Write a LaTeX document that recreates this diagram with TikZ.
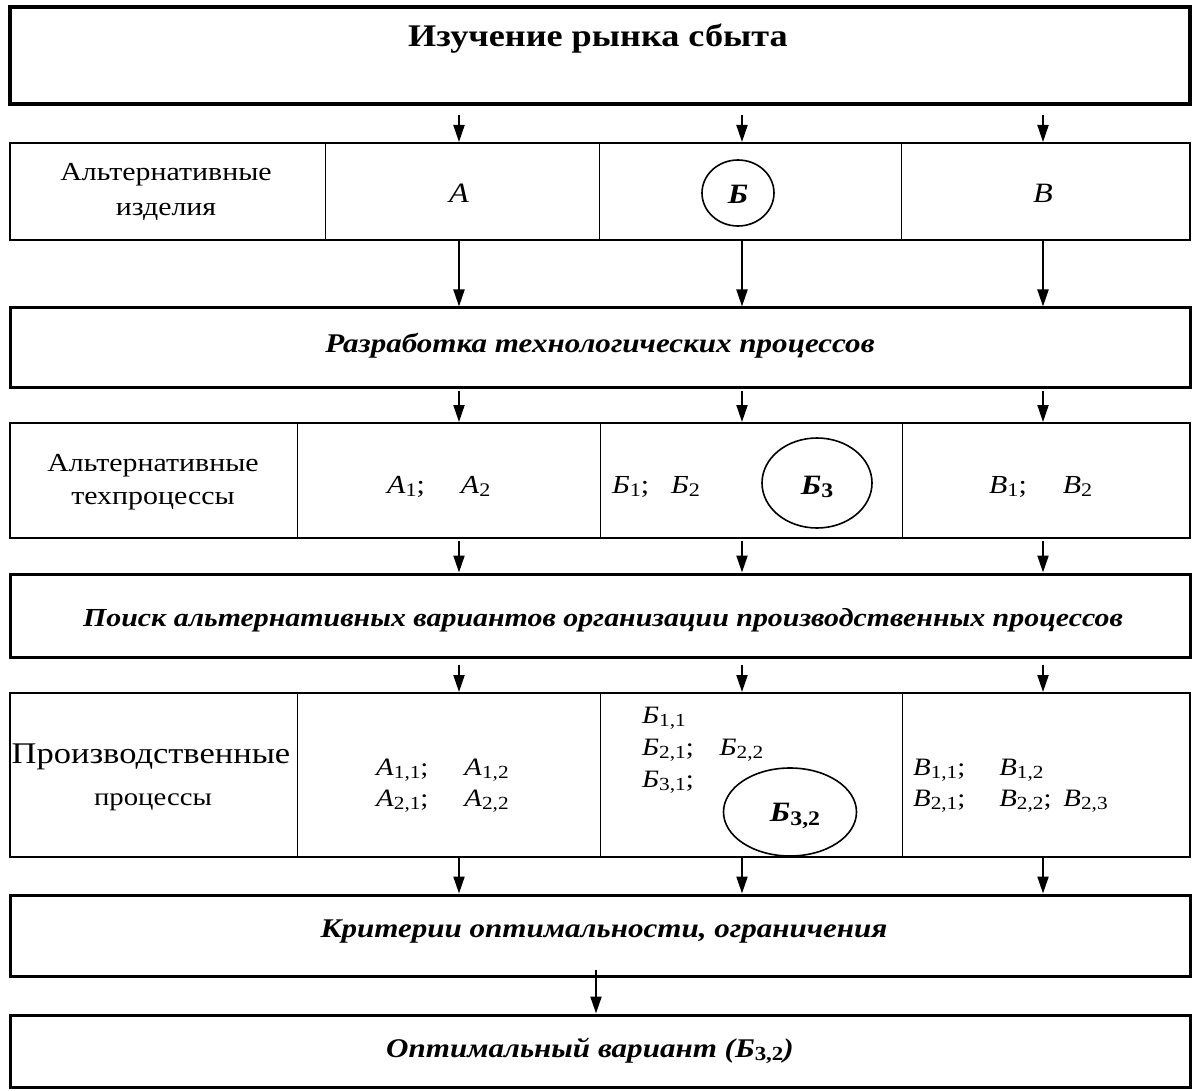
\documentclass[tikz,border=0pt]{standalone}
\usepackage{fontspec}
\usepackage{graphicx}
\setmainfont[FakeStretch=1.15]{Liberation Serif}
\usetikzlibrary{arrows.meta,shapes.geometric}
\newcommand{\sbs}[1]{\raisebox{-0.28ex}{\scalebox{0.74}{\upshape #1}}}
\newcommand{\Iv}[2]{\textit{#1}\sbs{#2}}
\newcommand{\Bv}[2]{\textbf{\textit{#1}}\sbs{\bfseries #2}}
\newcommand{\fs}[1]{\fontsize{#1}{#1}\selectfont}
\newcommand{\fsl}[2]{\fontsize{#1}{#2}\selectfont}
\begin{document}
\begin{tikzpicture}[x=1pt,y=-1pt,
  box/.style={draw,line width=3pt,inner sep=0pt},
  row/.style={draw,line width=2pt,inner sep=0pt},
  cell/.style={draw,line width=0.9pt,inner sep=0pt},
  arr/.style={line width=2pt,-{Triangle[width=11pt,length=17pt]}},
  oval/.style={draw,ellipse,line width=1.6pt,inner sep=0pt},
  boxtxt/.style={font=\fs{27}\bfseries\itshape},
  lbl/.style={align=center,inner sep=0pt}]
\useasboundingbox (0,0) rectangle (1194,1091);

% arrow columns
\coordinate (xA) at (459,0);
\coordinate (xB) at (742,0);
\coordinate (xV) at (1043,0);
\coordinate (xM) at (596,0);

% ---------- box 1
\node[box,line width=4.5pt,minimum width=1180pt,minimum height=97pt] (b1) at (600,55.5) {};
\node[font=\fs{31.5}\bfseries] (t1) at (598,39) {Изучение рынка сбыта};

% ---------- row 1 (y 143 -- 240)
\node[row,minimum width=1180pt,minimum height=97pt] (r1) at (600,191.5) {};
\node[cell,minimum width=315pt,minimum height=97pt] (r1l) at (167.5,191.5) {};
\node[cell,minimum width=274pt,minimum height=97pt] (r1a) at (462,191.5) {};
\node[cell,minimum width=302pt,minimum height=97pt] (r1b) at (750,191.5) {};
\node[cell,minimum width=289pt,minimum height=97pt] (r1v) at (1045.5,191.5) {};
\node[lbl,font=\fsl{26}{35}] (r1lt) at (166,192) {Альтернативные\\изделия};
\node[font=\fs{28}\itshape] (r1at) at (459,193) {А};
\node[oval,minimum width=72pt,minimum height=66pt] (r1bo) at (738,193) {};
\node[font=\fs{28}\bfseries\itshape] (r1bt) at (738,194) {Б};
\node[font=\fs{28}\itshape] (r1vt) at (1043,193) {В};

% ---------- box 2
\node[box,minimum width=1180pt,minimum height=79pt] (b2) at (600,347.5) {};
\node[boxtxt] (t2) at (600,346) {Разработка технологических процессов};

% ---------- row 2 (y 423 -- 538)
\node[row,minimum width=1180pt,minimum height=115pt] (r2) at (600,480.5) {};
\node[cell,minimum width=287pt,minimum height=115pt] (r2l) at (153.5,480.5) {};
\node[cell,minimum width=303pt,minimum height=115pt] (r2a) at (448.5,480.5) {};
\node[cell,minimum width=302pt,minimum height=115pt] (r2b) at (751,480.5) {};
\node[cell,minimum width=288pt,minimum height=115pt] (r2v) at (1046,480.5) {};
\node[lbl,font=\fsl{26}{33}] (r2lt) at (153,482) {Альтернативные\\техпроцессы};
\node[font=\fs{26},anchor=west,inner sep=0pt] (r2at) at (387,487) {\Iv{А}{1};\hspace{36pt}\Iv{А}{2}};
\node[font=\fs{26},anchor=west,inner sep=0pt] (r2bt) at (612,487) {\Iv{Б}{1};\hspace{22pt}\Iv{Б}{2}};
\node[oval,minimum width=110pt,minimum height=90pt] (r2bo) at (817,483) {};
\node[font=\fs{28}] (r2bot) at (817,487) {\Bv{Б}{3}};
\node[font=\fs{26},anchor=west,inner sep=0pt] (r2vt) at (989,487) {\Iv{В}{1};\hspace{36pt}\Iv{В}{2}};

% ---------- box 3
\node[box,minimum width=1180pt,minimum height=83pt] (b3) at (600,615.5) {};
\node[font=\fs{26}\bfseries\itshape] (t3) at (603,620) {Поиск альтернативных вариантов организации производственных процессов};

% ---------- row 3 (y 693 -- 857)
\node[row,minimum width=1180pt,minimum height=164pt] (r3) at (600,775) {};
\node[cell,minimum width=287pt,minimum height=164pt] (r3l) at (153.5,775) {};
\node[cell,minimum width=303pt,minimum height=164pt] (r3a) at (448.5,775) {};
\node[cell,minimum width=302pt,minimum height=164pt] (r3b) at (751,775) {};
\node[cell,minimum width=288pt,minimum height=164pt] (r3v) at (1046,775) {};
\node[font=\fs{30},inner sep=0pt] (r3lt1) at (151,757) {Производственные};
\node[font=\fs{25},inner sep=0pt] (r3lt2) at (153,802) {процессы};
\node[font=\fsl{25}{31},anchor=west,inner sep=0pt] (r3at) at (376,785) {%
  \begin{tabular}{@{}l@{\hspace{36pt}}l@{}}
  \Iv{А}{1,1}; & \Iv{А}{1,2}\\
  \Iv{А}{2,1}; & \Iv{А}{2,2}
  \end{tabular}};
\node[font=\fsl{25}{32},anchor=west,inner sep=0pt] (r3bt) at (642,749) {%
  \begin{tabular}{@{}l@{\hspace{26pt}}l@{}}
  \Iv{Б}{1,1} & \\
  \Iv{Б}{2,1}; & \Iv{Б}{2,2}\\
  \Iv{Б}{3,1}; &
  \end{tabular}};
\node[oval,minimum width=133pt,minimum height=88pt] (r3bo) at (790,812) {};
\node[font=\fs{28}] (r3bot) at (795,816) {\Bv{Б}{3,2}};
\node[font=\fsl{25}{31},anchor=west,inner sep=0pt] (r3vt) at (913,785) {%
  \begin{tabular}{@{}l@{\hspace{34pt}}l@{\hspace{12pt}}l@{}}
  \Iv{В}{1,1}; & \Iv{В}{1,2} & \\
  \Iv{В}{2,1}; & \Iv{В}{2,2}; & \Iv{В}{2,3}
  \end{tabular}};

% ---------- box 4
\node[box,minimum width=1180pt,minimum height=81pt] (b4) at (600,935.5) {};
\node[boxtxt] (t4) at (604,932) {Критерии оптимальности, ограничения};

% ---------- box 5
\node[box,minimum width=1180pt,minimum height=72pt] (b5) at (600,1051) {};
\node[boxtxt] (t5) at (590,1051) {Оптимальный вариант (\Bv{Б}{3,2})};

% ---------- arrows
\foreach \c in {xA,xB,xV}{
  \draw[arr,shorten <=9pt] (b1.south -| \c) -- (r1.north -| \c);
  \draw[arr] (r1.south -| \c) -- (b2.north -| \c);
  \draw[arr,shorten <=2pt] (b2.south -| \c) -- (r2.north -| \c);
  \draw[arr,shorten <=2pt] (r2.south -| \c) -- (b3.north -| \c);
  \draw[arr,shorten <=6pt] (b3.south -| \c) -- (r3.north -| \c);
  \draw[arr] (r3.south -| \c) -- (b4.north -| \c);
}
\draw[arr,shorten <=-8pt] (b4.south -| xM) -- (b5.north -| xM);
\end{tikzpicture}
\end{document}
